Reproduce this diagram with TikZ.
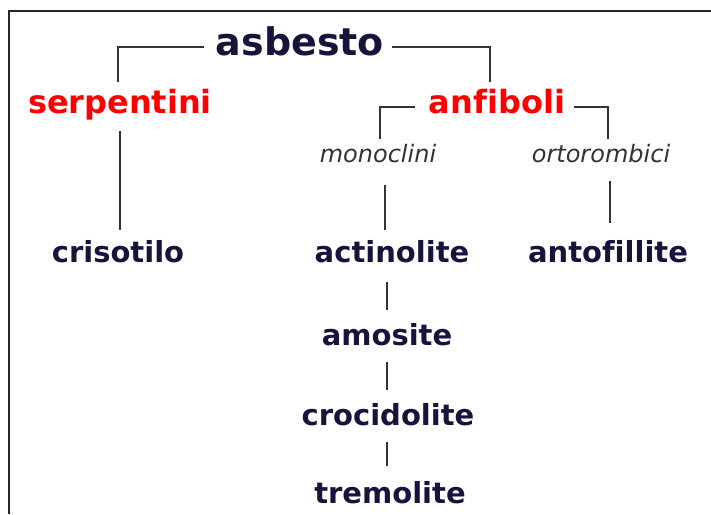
\documentclass[tikz,border=0pt]{standalone}
\usepackage{fontspec}
\newfontfamily\dv[Ligatures=NoCommon]{DejaVu Sans}
\usetikzlibrary{calc}
\definecolor{navy}{HTML}{14143C}
\definecolor{linec}{HTML}{333333}
\begin{document}
\begin{tikzpicture}[x=1pt,y=-1pt,
  conn/.style={draw=linec, line width=2pt},
  base/.style={inner sep=0pt, anchor=base},
  top/.style={base, text height=27pt, text depth=8pt, text=navy, font=\dv\bfseries\fontsize{38}{44}\selectfont},
  group/.style={base, text height=23pt, text depth=6.4pt, text=red, font=\dv\bfseries\fontsize{32}{38}\selectfont},
  sub/.style={base, text height=17pt, text depth=5pt, text=linec, font=\dv\itshape\fontsize{24}{28}\selectfont},
  mineral/.style={base, text height=21pt, text depth=6pt, text=navy, font=\dv\bfseries\fontsize{29}{34}\selectfont}]
\useasboundingbox (0,0) rectangle (711,514);
\fill[white] (0,0) rectangle (711,514);
\draw[draw=black!85, line width=2pt] (9,514) -- (9,11) -- (711,11);
\node[top] (asb) at (300,55) {asbesto};
\node[group] (serp) at (120,113) {serpentini};
\node[group] (anf) at (497,113) {anfiboli};
\node[sub] (mono) at (378,162) {monoclini};
\node[sub] (orto) at (601,162) {ortorombici};
\node[mineral] (cris) at (118,262) {crisotilo};
\node[mineral] (acti) at (392,262) {actinolite};
\node[mineral] (anto) at (608,262) {antofillite};
\node[mineral] (amo) at (387,345) {amosite};
\node[mineral] (cro) at (388,425) {crocidolite};
\node[mineral] (tre) at (390,503) {tremolite};
\draw[conn] ($(asb.west)+(-12,1.5)$) -| ($(serp.north)+(-2,-8)$);
\draw[conn] ($(asb.east)+(8,1.5)$) -| ($(anf.north)+(-7,-8)$);
\draw[conn] ($(anf.west)+(-14,2)$) -| ($(mono.north)+(2,-6)$);
\draw[conn] ($(anf.east)+(9,2)$) -| ($(orto.north)+(7,-6)$);
\draw[conn] ($(serp.south)+(0,11)$) -- ($(serp.south |- cris.north)+(0,-11)$);
\draw[conn] ($(mono.south)+(7,18)$) -- ($(mono.south |- acti.north)+(7,-11)$);
\draw[conn] ($(orto.south)+(9,14)$) -- ($(orto.south |- anto.north)+(9,-18)$);
\draw[conn] ($(acti.south)+(-5,14)$) -- ($(acti.south |- amo.north)+(-5,-14)$);
\draw[conn] ($(amo.south)+(0,11)$) -- ($(amo.south |- cro.north)+(0,-14)$);
\draw[conn] ($(cro.south)+(-1,11)$) -- ($(cro.south |- tre.north)+(-1,-16)$);
\end{tikzpicture}
\end{document}
